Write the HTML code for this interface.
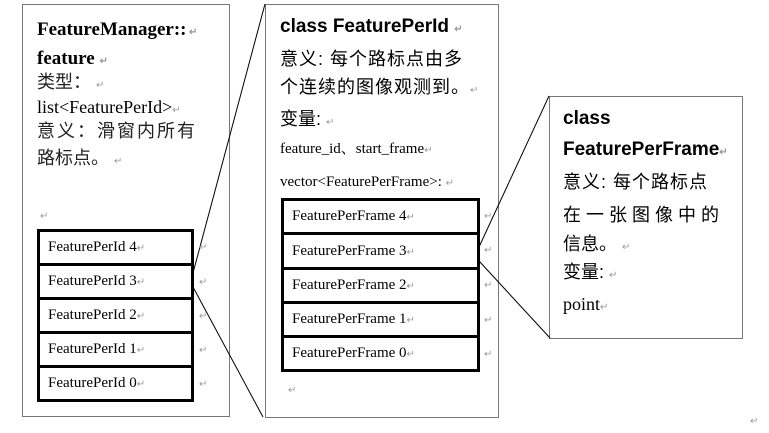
<!DOCTYPE html>
<html><head><meta charset="utf-8"><style>
body{margin:0;width:769px;height:433px;background:#fff;position:relative;overflow:hidden;font-family:"Liberation Serif","Noto Serif CJK SC",serif;color:#000}
.t{position:absolute;white-space:nowrap;line-height:1}
.b{font-weight:bold}
.s{font-family:"Liberation Sans","Noto Sans CJK SC",sans-serif}
.m{color:#999;font-size:10px}
.r{position:absolute;border:3px solid #000;box-sizing:border-box;background:#fff}
.cell{position:absolute;left:0;right:0;border-bottom:3px solid #000;font-size:15px;padding-left:8px;box-sizing:border-box}
</style></head><body>
<svg width="769" height="433" style="position:absolute;left:0;top:0">
<rect x="22.5" y="4.5" width="207" height="412" fill="none" stroke="#777"/>
<rect x="265.5" y="4.5" width="233" height="413" fill="none" stroke="#777"/>
<rect x="549.5" y="96.5" width="193" height="242" fill="none" stroke="#777"/>
<line x1="193" y1="273" x2="265" y2="4" stroke="#000"/>
<line x1="193" y1="287" x2="263" y2="417" stroke="#000"/>
<line x1="479" y1="247" x2="549" y2="96" stroke="#000"/>
<line x1="479" y1="261" x2="550" y2="338" stroke="#000"/>
</svg>
<div class="t b" style="left:37px;top:20px;font-size:19px">FeatureManager::<span class="m"> ↵</span></div>
<div class="t b" style="left:37px;top:49px;font-size:19px">feature <span class="m">↵</span></div>
<div class="t s" style="left:37px;top:73px;font-size:18px;color:#222">类型： <span class="m">↵</span></div>
<div class="t" style="left:37px;top:98px;font-size:18px">list&lt;FeaturePerId&gt;<span class="m">↵</span></div>
<div class="t s" style="left:37px;top:122px;font-size:18px;letter-spacing:2px;color:#222">意义：滑窗内所有</div>
<div class="t s" style="left:37px;top:149px;font-size:18px;color:#222">路标点。 <span class="m">↵</span></div>
<div class="t m" style="left:40px;top:212px">↵</div>
<div class="r" style="left:37px;top:229px;width:157px;height:173px">
<div class="cell" style="top:0;height:34px;line-height:31px">FeaturePerId 4<span class="m">↵</span></div>
<div class="cell" style="top:34px;height:34px;line-height:31px">FeaturePerId 3<span class="m">↵</span></div>
<div class="cell" style="top:68px;height:34px;line-height:31px">FeaturePerId 2<span class="m">↵</span></div>
<div class="cell" style="top:102px;height:34px;line-height:31px">FeaturePerId 1<span class="m">↵</span></div>
<div class="cell" style="top:136px;height:34px;line-height:31px;border:none">FeaturePerId 0<span class="m">↵</span></div>
</div>
<div class="t m" style="left:199px;top:243px">↵</div><div class="t m" style="left:199px;top:278px">↵</div><div class="t m" style="left:199px;top:312px">↵</div><div class="t m" style="left:199px;top:346px">↵</div><div class="t m" style="left:199px;top:380px">↵</div>

<div class="t s b" style="left:280px;top:17px;font-size:19px">class FeaturePerId <span class="m">↵</span></div>
<div class="t s" style="left:280px;top:50px;font-size:18px;letter-spacing:1px">意义: 每个路标点由多</div>
<div class="t s" style="left:280px;top:78px;font-size:18px;letter-spacing:1px">个连续的图像观测到。<span class="m">↵</span></div>
<div class="t s" style="left:280px;top:110px;font-size:18px">变量: <span class="m">↵</span></div>
<div class="t" style="left:280px;top:142px;font-size:15px">feature_id、start_frame<span class="m">↵</span></div>
<div class="t" style="left:280px;top:175px;font-size:15px">vector&lt;FeaturePerFrame&gt;: <span class="m">↵</span></div>
<div class="r" style="left:281px;top:198px;width:199px;height:174px">
<div class="cell" style="top:0;height:34px;line-height:31px">FeaturePerFrame 4<span class="m">↵</span></div>
<div class="cell" style="top:34px;height:35px;line-height:32px">FeaturePerFrame 3<span class="m">↵</span></div>
<div class="cell" style="top:69px;height:34px;line-height:31px">FeaturePerFrame 2<span class="m">↵</span></div>
<div class="cell" style="top:103px;height:34px;line-height:31px">FeaturePerFrame 1<span class="m">↵</span></div>
<div class="cell" style="top:137px;height:34px;line-height:31px;border:none">FeaturePerFrame 0<span class="m">↵</span></div>
</div>
<div class="t m" style="left:484px;top:212px">↵</div><div class="t m" style="left:484px;top:246px">↵</div><div class="t m" style="left:484px;top:281px">↵</div><div class="t m" style="left:484px;top:316px">↵</div><div class="t m" style="left:484px;top:350px">↵</div>
<div class="t m" style="left:288px;top:386px">↵</div>

<div class="t s b" style="left:563px;top:109px;font-size:19px">class</div>
<div class="t s b" style="left:563px;top:140px;font-size:19px">FeaturePerFrame<span class="m">↵</span></div>
<div class="t s" style="left:563px;top:173px;font-size:18px;letter-spacing:1px">意义: 每个路标点</div>
<div class="t s" style="left:563px;top:206px;font-size:18px;letter-spacing:5px">在一张图像中的</div>
<div class="t s" style="left:563px;top:235px;font-size:18px">信息。 <span class="m">↵</span></div>
<div class="t s" style="left:563px;top:263px;font-size:18px">变量: <span class="m">↵</span></div>
<div class="t" style="left:563px;top:295px;font-size:18px">point<span class="m">↵</span></div>
<div class="t m" style="left:750px;top:417px">↵</div>
</body></html>
